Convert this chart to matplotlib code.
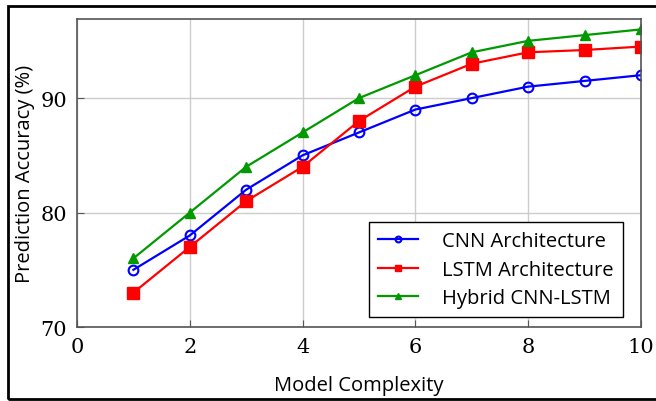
import matplotlib.pyplot as plt
from matplotlib.patches import Rectangle

# data
complexity = [1, 2, 3, 4, 5, 6, 7, 8, 9, 10]
cnn = [75, 78, 82, 85, 87, 89, 90, 91, 91.5, 92]
lstm = [73, 77, 81, 84, 88, 91, 93, 94, 94.2, 94.5]
hybrid = [76, 80, 84, 87, 90, 92, 94, 95, 95.5, 96]

fig = plt.figure(figsize=(6.56, 4.02), dpi=100)
ax = fig.add_axes([0.1174, 0.184, 0.8597, 0.766])

# black frame round the whole figure
fig.patches.append(Rectangle((0.012, 0.004), 1.05, 0.978, transform=fig.transFigure,
                             fill=False, edgecolor='black', linewidth=2))

ax.plot(complexity, cnn, color='blue', marker='o', mfc='none', mec='blue', mew=1.5,
        ms=7, lw=1.6, label='CNN Architecture')
ax.plot(complexity, lstm, color='red', marker='s', ms=8, lw=1.6, label='LSTM Architecture')
ax.plot(complexity, hybrid, color='#009900', marker='^', ms=7, lw=1.6, label='Hybrid CNN-LSTM')

ax.set_xlim(0, 10)
ax.set_ylim(70, 96.9)
ax.set_xticks([0, 2, 4, 6, 8, 10])
ax.set_yticks([70, 80, 90])
ax.grid(True, color='#cccccc', linewidth=1)
ax.set_axisbelow(True)
ax.tick_params(direction='in', length=5, color='#555555', labelsize=15, pad=7)
for lab in ax.get_xticklabels() + ax.get_yticklabels():
    lab.set_family('DejaVu Serif')
for s in ax.spines.values():
    s.set_color('#555555')
    s.set_linewidth(1.2)

ax.set_xlabel('Model Complexity', fontsize=14.5, family='Open Sans', labelpad=14)
ax.set_ylabel('Prediction Accuracy (%)', fontsize=14.5, family='Open Sans')
ax.yaxis.set_label_coords(-0.074, 0.5)

leg = ax.legend(loc='lower right', bbox_to_anchor=(0.968, 0.032), fancybox=False,
                edgecolor='black', framealpha=1,
                prop={'family': 'Open Sans', 'size': 14.5}, handlelength=2.0,
                borderaxespad=0, labelspacing=0.42, markerscale=0.6,
                borderpad=0.45, handletextpad=1.2)
leg.get_frame().set_linewidth(1)

fig.savefig('out.png', dpi=100)
